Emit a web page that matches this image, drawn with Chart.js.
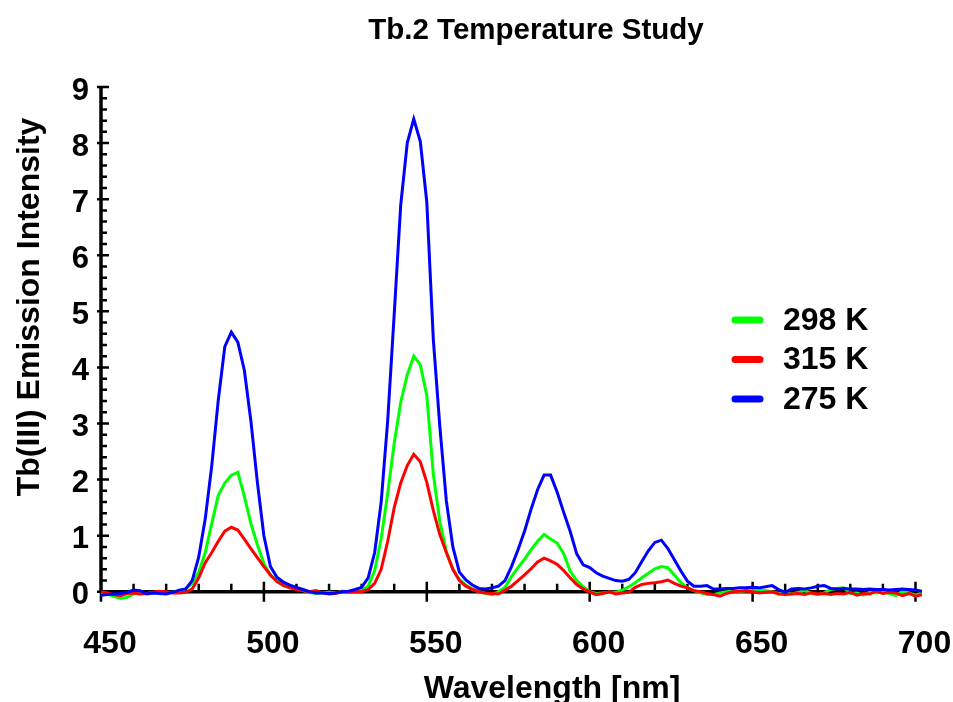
<!DOCTYPE html>
<html>
<head>
<meta charset="utf-8">
<script src="https://cdn.jsdelivr.net/npm/chart.js@4/dist/chart.umd.min.js"></script>
<style>
  html, body { margin: 0; padding: 0; background: #fff; }
  #wrap { width: 953px; height: 702px; }
</style>
</head>
<body>
<div id="wrap"><canvas id="myChart" width="953" height="702"></canvas></div>
<script>
const wavelength = [
  450, 452, 454, 456, 458, 460, 462, 464, 466, 468,
  470, 472, 474, 476, 478, 480, 482, 484, 486, 488,
  490, 492, 494, 496, 498, 500, 502, 504, 506, 508,
  510, 512, 514, 516, 518, 520, 522, 524, 526, 528,
  530, 532, 534, 536, 538, 540, 542, 544, 546, 548,
  550, 552, 554, 556, 558, 560, 562, 564, 566, 568,
  570, 572, 574, 576, 578, 580, 582, 584, 586, 588,
  590, 592, 594, 596, 598, 600, 602, 604, 606, 608,
  610, 612, 614, 616, 618, 620, 622, 624, 626, 628,
  630, 632, 634, 636, 638, 640, 642, 644, 646, 648,
  650, 652, 654, 656, 658, 660, 662, 664, 666, 668,
  670, 672, 674, 676, 678, 680, 682, 684, 686, 688,
  690, 692, 694, 696, 698, 700, 702
];

// 298 K
const k298 = [
  -0.03, -0.04, -0.08, -0.12, -0.1, -0.04, -0.02, -0.03, -0.02, -0.01,
  -0.02, -0.01, 0.01, 0.05, 0.15, 0.35, 0.7, 1.22, 1.72, 1.94,
  2.08, 2.13, 1.7, 1.22, 0.84, 0.5, 0.3, 0.2, 0.13, 0.09,
  0.06, 0.02, -0.01, -0.03, -0.02, -0.01, -0.02, 0.01, -0.01, 0.0,
  0.03, 0.1, 0.38, 0.95, 1.75, 2.65, 3.38, 3.87, 4.2, 4.05,
  3.5, 2.1, 1.25, 0.72, 0.4, 0.22, 0.12, 0.05, 0.0, -0.03,
  -0.05, 0.0, 0.08, 0.27, 0.43, 0.58, 0.75, 0.9, 1.02, 0.94,
  0.87, 0.68, 0.37, 0.2, 0.09, 0.0, -0.03, -0.02, -0.01, -0.01,
  0.03, 0.09, 0.16, 0.25, 0.33, 0.41, 0.45, 0.43, 0.3, 0.16,
  0.07, 0.02, -0.02, -0.05, -0.05, -0.02, 0.0, 0.01, 0.0, 0.02,
  0.02, 0.03, 0.02, 0.0, -0.03, -0.02, -0.04, -0.01, 0.02, -0.03,
  -0.05, -0.02, 0.04, 0.06, 0.07, -0.03, -0.02, -0.06, -0.01, -0.02,
  0.0, -0.03, -0.07, 0.01, -0.02, -0.06, -0.02
];

// 315 K
const k315 = [
  0.0, -0.02, -0.05, -0.07, -0.03, -0.02, -0.04, -0.03, -0.01, 0.01,
  0.0, -0.02, -0.02, -0.01, 0.05, 0.25, 0.52, 0.7, 0.9, 1.08,
  1.15, 1.1, 0.94, 0.77, 0.61, 0.45, 0.3, 0.18, 0.11, 0.07,
  0.04, 0.02, 0.0, 0.02, -0.02, -0.04, -0.03, 0.01, -0.01, 0.0,
  0.0, 0.04, 0.15, 0.4, 0.9, 1.5, 1.94, 2.25, 2.45, 2.32,
  1.95, 1.45, 1.02, 0.7, 0.4, 0.2, 0.1, 0.04, 0.0, -0.02,
  -0.03, -0.04, 0.03, 0.1, 0.2, 0.3, 0.41, 0.53, 0.6, 0.55,
  0.49, 0.38, 0.25, 0.13, 0.05, 0.0, -0.05, -0.03, 0.0, -0.04,
  -0.02, -0.01, 0.08, 0.13, 0.15, 0.16, 0.18, 0.21, 0.15, 0.1,
  0.07, 0.02, 0.0, -0.03, -0.05, -0.08, -0.03, 0.0, 0.01, 0.02,
  0.0, -0.02, -0.01, 0.0, -0.04, -0.05, -0.04, -0.03, -0.05, -0.02,
  -0.04, -0.03, -0.05, -0.03, -0.04, -0.01, -0.06, -0.03, -0.04, 0.01,
  -0.03, -0.01, -0.02, -0.07, -0.03, -0.08, -0.05
];

// 275 K
const k275 = [
  -0.06, -0.05, -0.04, -0.03, -0.01, 0.03, 0.02, -0.04, -0.02, -0.03,
  -0.04, -0.01, 0.03, 0.05, 0.2, 0.62, 1.3, 2.25, 3.42, 4.37,
  4.63, 4.45, 3.95, 3.05, 1.95, 1.0, 0.45, 0.26, 0.17, 0.12,
  0.08, 0.04, 0.0, -0.02, -0.02, -0.03, -0.02, 0.0, 0.01, 0.04,
  0.08, 0.25, 0.7, 1.6, 3.05, 4.95, 6.9, 8.0, 8.43, 8.03,
  6.95, 4.5, 2.95, 1.62, 0.8, 0.35, 0.21, 0.12, 0.06, 0.05,
  0.07, 0.1, 0.2, 0.45, 0.75, 1.08, 1.47, 1.82, 2.08, 2.08,
  1.78, 1.42, 1.08, 0.68, 0.48, 0.43, 0.34, 0.28, 0.24, 0.2,
  0.19, 0.22, 0.34, 0.54, 0.73, 0.88, 0.92, 0.77, 0.57, 0.37,
  0.19, 0.1, 0.1, 0.11, 0.05, 0.05, 0.06, 0.06, 0.07, 0.07,
  0.08, 0.07, 0.09, 0.11, 0.04, -0.01, 0.05, 0.06, 0.05, 0.07,
  0.1, 0.11, 0.06, 0.05, 0.06, 0.05, 0.05, 0.04, 0.05, 0.04,
  0.04, 0.03, 0.04, 0.05, 0.04, 0.03, 0.01
];

const seriesLabels = ["298 K", "315 K", "275 K"];
const seriesColors = ["rgb(0, 255, 0)", "rgb(255, 0, 0)", "rgb(0, 0, 255)"];
const xTicks = [450, 500, 550, 600, 650, 700];
const yTicks = [0, 1, 2, 3, 4, 5, 6, 7, 8, 9];

const chartTitle = "Tb.2 Temperature Study";
const xTitle = "Wavelength [nm]";
const yTitle = "Tb(III) Emission Intensity";

const FONT = "'Liberation Sans', Arial, Helvetica, sans-serif";

function toPoints(values) {
  return values.map((v, i) => ({ x: wavelength[i], y: v }));
}

// axes drawn by hand so the x axis sits at y = 0 like the original
const axesPlugin = {
  id: "axes",
  beforeDatasetsDraw(chart) {
    const ctx = chart.ctx;
    const xs = chart.scales.x;
    const ys = chart.scales.y;
    const y0 = ys.getPixelForValue(0);
    const x0 = xs.getPixelForValue(450);
    ctx.save();
    ctx.strokeStyle = "#000";
    ctx.lineCap = "butt";

    // axis lines
    ctx.lineWidth = 3.5;
    ctx.beginPath();
    ctx.moveTo(x0, ys.getPixelForValue(9) - 1);
    ctx.lineTo(x0, y0);
    ctx.moveTo(x0, y0);
    ctx.lineTo(xs.getPixelForValue(702), y0);
    ctx.stroke();

    // x ticks
    ctx.lineWidth = 2.5;
    ctx.beginPath();
    for (let v = 460; v <= 700; v += 10) {
      const px = xs.getPixelForValue(v);
      if (v % 50 === 0) {
        ctx.moveTo(px, y0 - 10);
        ctx.lineTo(px, y0 + 10);
      } else {
        ctx.moveTo(px, y0 - 8);
        ctx.lineTo(px, y0);
      }
    }
    ctx.moveTo(x0, y0);
    ctx.lineTo(x0, y0 + 10);

    // y ticks
    for (let k = 0; k <= 45; k++) {
      const py = ys.getPixelForValue(k / 5);
      if (k % 5 === 0) {
        ctx.moveTo(x0 - 4, py);
        ctx.lineTo(x0 + 8, py);
      } else {
        ctx.moveTo(x0, py);
        ctx.lineTo(x0 + 6, py);
      }
    }
    ctx.stroke();
    ctx.restore();
  },
  afterDraw(chart) {
    const ctx = chart.ctx;
    ctx.save();
    ctx.fillStyle = "#000";

    // title
    ctx.font = "bold 29.5px " + FONT;
    ctx.textAlign = "center";
    ctx.textBaseline = "alphabetic";
    ctx.fillText(chartTitle, 536, 39);

    // x axis title
    ctx.font = "bold 32px " + FONT;
    ctx.fillText(xTitle, 552, 698);

    // y axis title
    ctx.translate(39, 307);
    ctx.rotate(-Math.PI / 2);
    ctx.fillText(yTitle, 0, 0);
    ctx.restore();

    // legend
    ctx.save();
    chart.data.datasets.forEach((ds, i) => {
      const yy = 320 + i * 39.5;
      ctx.strokeStyle = ds.borderColor;
      ctx.lineWidth = 7;
      ctx.lineCap = "round";
      ctx.beginPath();
      ctx.moveTo(735, yy);
      ctx.lineTo(760, yy);
      ctx.stroke();
      ctx.fillStyle = "#000";
      ctx.font = "bold 32px " + FONT;
      ctx.textAlign = "left";
      ctx.textBaseline = "middle";
      ctx.fillText(ds.label, 783, yy + 1);
    });
    ctx.restore();
  }
};

const datasets = [k298, k315, k275].map((vals, i) => ({
  label: seriesLabels[i],
  data: toPoints(vals),
  borderColor: seriesColors[i],
  backgroundColor: seriesColors[i],
  borderWidth: 3,
  pointRadius: 0,
  tension: 0,
  fill: false,
  order: 3 - i
}));

new Chart(document.getElementById("myChart"), {
  type: "line",
  data: { datasets: datasets },
  plugins: [axesPlugin],
  options: {
    responsive: false,
    animation: false,
    events: [],
    layout: { padding: { top: 87, right: 31, left: 0, bottom: 0 } },
    plugins: {
      legend: { display: false },
      title: { display: false },
      tooltip: { enabled: false }
    },
    scales: {
      x: {
        type: "linear",
        min: 450,
        max: 702,
        grid: { display: false, drawTicks: false },
        border: { display: false },
        afterFit(scale) {
          scale.height = 99;
          scale.paddingLeft = 0;
          scale.paddingRight = 0;
        },
        afterBuildTicks(scale) { scale.ticks = xTicks.map(v => ({ value: v })); },
        ticks: {
          includeBounds: false,
          stepSize: 50,
          padding: 22,
          labelOffset: 9,
          color: "#000",
          maxRotation: 0,
          font: { family: FONT, size: 32, weight: "bold" }
        }
      },
      y: {
        type: "linear",
        min: -0.2,
        max: 9,
        grid: { display: false, drawTicks: false },
        border: { display: false },
        afterFit(scale) {
          scale.width = 101;
          scale.paddingTop = 0;
          scale.paddingBottom = 0;
        },
        afterBuildTicks(scale) { scale.ticks = yTicks.map(v => ({ value: v })); },
        ticks: {
          includeBounds: false,
          stepSize: 1,
          padding: 12,
          labelOffset: 4,
          color: "#000",
          font: { family: FONT, size: 31, weight: "bold" }
        }
      }
    }
  }
});
</script>
</body>
</html>
